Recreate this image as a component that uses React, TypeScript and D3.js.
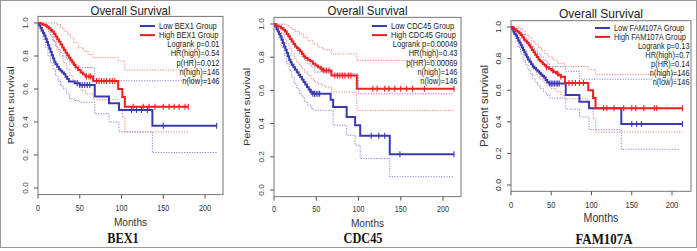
import React from 'react';
import * as d3 from 'd3';

type Pt = [number, number];

const TITLE = 'Overall Survival';
const X_LABEL = 'Months';
const Y_LABEL = 'Percent survival';
const X_TICKS = [0, 50, 100, 150, 200];
const Y_TICKS = [0, 0.2, 0.4, 0.6, 0.8, 1.0];
const GENES = ['BEX1', 'CDC45', 'FAM107A'];

// ---------- BEX1 ----------
const BEX1_LOW: Pt[] = [[0,1],[1.5,0.985],[3,0.97],[4.5,0.955],[6,0.94],[7.5,0.925],[9,0.905],[10.5,0.885],[12,0.865],[13.5,0.845],[15,0.825],[16.5,0.805],[18,0.785],[19.5,0.765],[21,0.75],[23,0.735],[25,0.72],[27,0.71],[29,0.7],[31,0.69],[33,0.675],[35,0.66],[37,0.645],[44,0.635],[50,0.624],[68,0.555],[85,0.513],[97,0.473],[137,0.377],[214,0.377]];
const BEX1_HIGH: Pt[] = [[0,1],[3,0.995],[6,0.99],[9,0.985],[11,0.978],[13,0.968],[15,0.958],[17,0.948],[19,0.935],[21,0.918],[23,0.902],[25,0.886],[27,0.87],[29,0.852],[31,0.836],[33,0.82],[35,0.805],[37,0.79],[39,0.775],[41,0.76],[43,0.745],[45,0.73],[48,0.715],[51,0.7],[54,0.688],[57,0.676],[66,0.648],[96,0.6],[101,0.552],[104,0.492],[180,0.492]];
const BEX1_LOW_CENS = [47,50,53,56,59,62,112,118,124,131,150,214];
const BEX1_HIGH_CENS = [58,61,63,70,73,76,79,82,86,89,92,114,126,133,140,150,157,163,169,176,180];
const BEX1_HIGH_UP: Pt[] = [[0,1],[20,1],[23,0.99],[27,0.97],[31,0.95],[35,0.93],[39,0.91],[43,0.88],[48,0.85],[54,0.83],[60,0.81],[66,0.79],[96,0.77],[104,0.715],[180,0.715]];
const BEX1_HIGH_LO: Pt[] = [[0,1],[10,0.97],[14,0.93],[18,0.89],[22,0.84],[26,0.8],[30,0.76],[34,0.72],[38,0.68],[42,0.65],[46,0.62],[52,0.59],[57,0.57],[66,0.535],[96,0.48],[101,0.43],[104,0.34],[180,0.34]];
const BEX1_LOW_UP: Pt[] = [[0,1],[5,0.99],[9,0.97],[12,0.95],[15,0.92],[18,0.89],[21,0.86],[24,0.84],[27,0.82],[30,0.8],[34,0.78],[38,0.75],[44,0.74],[50,0.73],[68,0.65],[214,0.65]];
const BEX1_LOW_LO: Pt[] = [[0,1],[3,0.95],[6,0.9],[9,0.85],[12,0.8],[15,0.76],[18,0.72],[21,0.68],[24,0.65],[27,0.62],[30,0.6],[34,0.57],[38,0.54],[44,0.53],[50,0.52],[68,0.45],[85,0.4],[97,0.34],[137,0.215],[214,0.215]];
const BEX1_STATS = ['Logrank p=0.01', 'HR(high)=0.54', 'p(HR)=0.012', 'n(high)=146', 'n(low)=146'];

// ---------- CDC45 ----------
const CDC45_LOW: Pt[] = [[0,1],[1.5,0.985],[3,0.97],[4.5,0.955],[6,0.94],[7.5,0.925],[9,0.905],[10.5,0.885],[12,0.865],[13.5,0.845],[15,0.825],[16.5,0.805],[18,0.785],[19.5,0.77],[21,0.755],[23,0.74],[25,0.725],[27,0.71],[29,0.695],[31,0.68],[33,0.665],[35,0.65],[37,0.635],[39,0.62],[41,0.605],[43,0.59],[46,0.58],[67,0.544],[70,0.5],[86,0.44],[96,0.39],[102,0.327],[137,0.216],[213,0.216]];
const CDC45_HIGH: Pt[] = [[0,1],[2,0.99],[5,0.985],[8,0.975],[11,0.965],[13,0.955],[15,0.94],[17,0.925],[19,0.91],[21,0.895],[23,0.88],[25,0.865],[27,0.855],[29,0.845],[31,0.835],[33,0.82],[35,0.805],[37,0.795],[40,0.785],[43,0.775],[46,0.76],[49,0.75],[52,0.74],[55,0.73],[58,0.72],[68,0.69],[98,0.61],[213,0.61]];
const CDC45_LOW_CENS = [44,46,48,50,52,54,115,124,131,149,213];
const CDC45_HIGH_CENS = [56,59,62,65,72,75,78,81,84,88,91,117,122,131,136,143,150,157,164,178,213];
const CDC45_HIGH_UP: Pt[] = [[0,1],[12,1],[15,0.99],[18,0.98],[21,0.97],[25,0.955],[30,0.94],[35,0.92],[40,0.9],[46,0.88],[52,0.86],[58,0.845],[68,0.82],[98,0.78],[213,0.78]];
const CDC45_HIGH_LO: Pt[] = [[0,1],[5,0.97],[9,0.94],[12,0.91],[15,0.88],[18,0.85],[21,0.82],[24,0.79],[27,0.77],[30,0.75],[33,0.73],[36,0.71],[40,0.69],[44,0.67],[48,0.65],[52,0.64],[56,0.63],[60,0.62],[68,0.59],[98,0.48],[213,0.48]];
const CDC45_LOW_UP: Pt[] = [[0,1],[5,0.995],[9,0.98],[12,0.965],[15,0.94],[18,0.915],[21,0.89],[24,0.865],[27,0.84],[30,0.82],[33,0.8],[36,0.78],[40,0.76],[44,0.74],[48,0.71],[67,0.7],[100,0.58],[213,0.58]];
const CDC45_LOW_LO: Pt[] = [[0,1],[3,0.96],[6,0.91],[9,0.86],[12,0.81],[15,0.76],[18,0.72],[21,0.68],[24,0.64],[27,0.61],[30,0.58],[33,0.56],[36,0.53],[40,0.51],[44,0.49],[47,0.48],[70,0.39],[86,0.33],[96,0.27],[102,0.19],[137,0.08],[213,0.08]];
const CDC45_STATS = ['Logrank p=0.00049', 'HR(high)=0.43', 'p(HR)=0.00069', 'n(high)=146', 'n(low)=146'];

// ---------- FAM107A ----------
const FAM_LOW: Pt[] = [[0,1],[1.5,0.985],[3,0.97],[4.5,0.955],[6,0.945],[7.5,0.93],[9,0.915],[10.5,0.9],[12,0.885],[13.5,0.87],[15,0.855],[16.5,0.84],[18,0.825],[19.5,0.81],[21,0.795],[23,0.78],[25,0.765],[27,0.75],[29,0.74],[31,0.73],[33,0.72],[35,0.71],[37,0.7],[39,0.69],[41,0.68],[43,0.665],[45,0.65],[47,0.642],[68,0.57],[85,0.527],[97,0.485],[137,0.386],[213,0.386]];
const FAM_HIGH: Pt[] = [[0,1],[2,0.995],[4,0.985],[6,0.978],[8,0.97],[10,0.96],[12,0.95],[14,0.935],[16,0.92],[18,0.91],[20,0.9],[22,0.885],[24,0.87],[26,0.855],[28,0.84],[30,0.825],[32,0.81],[34,0.795],[36,0.785],[38,0.775],[40,0.765],[42,0.755],[44,0.745],[47,0.735],[50,0.725],[53,0.715],[56,0.705],[59,0.695],[62,0.685],[67,0.645],[96,0.6],[102,0.55],[105,0.485],[213,0.485]];
const FAM_LOW_CENS = [48,50,52,54,56,58,60,150,156,162,213];
const FAM_HIGH_CENS = [44,52,58,62,72,76,80,85,90,115,119,128,140,150,155,165,178,181,213];
const FAM_HIGH_UP: Pt[] = [[0,1],[8,1],[10,0.99],[14,0.97],[18,0.95],[22,0.93],[26,0.91],[30,0.89],[34,0.87],[38,0.85],[42,0.83],[46,0.81],[52,0.79],[58,0.77],[67,0.75],[96,0.73],[105,0.7],[213,0.7]];
const FAM_HIGH_LO: Pt[] = [[0,1],[4,0.97],[8,0.93],[12,0.89],[16,0.85],[20,0.81],[24,0.77],[28,0.73],[32,0.7],[36,0.67],[40,0.65],[44,0.63],[50,0.61],[56,0.59],[62,0.57],[67,0.545],[96,0.49],[102,0.42],[105,0.335],[213,0.335]];
const FAM_LOW_UP: Pt[] = [[0,1],[5,0.99],[9,0.975],[13,0.955],[17,0.93],[21,0.9],[25,0.875],[29,0.85],[33,0.83],[37,0.81],[41,0.79],[45,0.77],[48,0.75],[68,0.72],[85,0.67],[213,0.67]];
const FAM_LOW_LO: Pt[] = [[0,1],[3,0.95],[6,0.91],[9,0.87],[12,0.83],[15,0.79],[18,0.76],[21,0.73],[24,0.7],[27,0.67],[30,0.65],[33,0.63],[36,0.61],[40,0.59],[44,0.57],[48,0.55],[68,0.48],[85,0.43],[97,0.35],[137,0.226],[210,0.226]];
const FAM_STATS = ['Logrank p=0.13', 'HR(high)=0.7', 'p(HR)=0.14', 'n(high)=146', 'n(low)=146'];

const BLUE = '#3a3ab4';
const RED = '#f21e1e';
const BLUE_CI = '#7f7fd6';
const RED_CI = '#f27c7c';
const SANS = '"Liberation Sans", Arial, sans-serif';
const SERIF = '"Liberation Serif", "Times New Roman", serif';
const SQ = 0.88;

interface PanelCfg {
  gene: string;
  low: Pt[]; high: Pt[]; lowCens: number[]; highCens: number[];
  lowUp: Pt[]; lowLo: Pt[]; highUp: Pt[]; highLo: Pt[];
  stats: string[];
  x0: number; x200: number; right: number; y1: number; y0: number;
  titleY: number; tickY: number; monthsY: number; geneY: number; geneX: number;
  legY: number; legStep: number; legTextOff: number; statsOff: number; fs: number; legFs: number;
}

const PANELS: PanelCfg[] = [
  { gene: GENES[0], low: BEX1_LOW, high: BEX1_HIGH, lowCens: BEX1_LOW_CENS, highCens: BEX1_HIGH_CENS,
    lowUp: BEX1_LOW_UP, lowLo: BEX1_LOW_LO, highUp: BEX1_HIGH_UP, highLo: BEX1_HIGH_LO, stats: BEX1_STATS,
    x0: 38, x200: 205, right: 223, y1: 23, y0: 188, titleY: 11, tickY: 208, monthsY: 222, geneY: 238, geneX: 123,
    legY: 26, legStep: 9.1, legTextOff: 64, statsOff: 3.5, fs: 1, legFs: 8.5 },
  { gene: GENES[1], low: CDC45_LOW, high: CDC45_HIGH, lowCens: CDC45_LOW_CENS, highCens: CDC45_HIGH_CENS,
    lowUp: CDC45_LOW_UP, lowLo: CDC45_LOW_LO, highUp: CDC45_HIGH_UP, highLo: CDC45_HIGH_LO, stats: CDC45_STATS,
    x0: 274, x200: 443, right: 461, y1: 24, y0: 190, titleY: 11, tickY: 209, monthsY: 223, geneY: 238, geneX: 363,
    legY: 26, legStep: 9.1, legTextOff: 70, statsOff: 3.5, fs: 1, legFs: 8.5 },
  { gene: GENES[2], low: FAM_LOW, high: FAM_HIGH, lowCens: FAM_LOW_CENS, highCens: FAM_HIGH_CENS,
    lowUp: FAM_LOW_UP, lowLo: FAM_LOW_LO, highUp: FAM_HIGH_UP, highLo: FAM_HIGH_LO, stats: FAM_STATS,
    x0: 511, x200: 672, right: 691, y1: 27, y0: 185, titleY: 13, tickY: 205, monthsY: 218, geneY: 239, geneX: 604,
    legY: 28, legStep: 8.9, legTextOff: 77, statsOff: 1.5, fs: 1.05, legFs: 8.4 },
];

function Txt(props: { x: number; y: number; rot?: boolean; size: number; anchor?: string; weight?: string | number; family?: string; fill?: string; children: React.ReactNode }) {
  const { x, y, rot, size, anchor = 'middle', weight = 'normal', family = SANS, fill = '#222', children } = props;
  const t = rot ? `translate(${x},${y}) rotate(-90) scale(1,${SQ})` : `translate(${x},${y}) scale(${SQ},1)`;
  return (
    <text transform={t} fontSize={size} textAnchor={anchor as any} dominantBaseline="central" fontWeight={weight} fontFamily={family} fill={fill}>
      {children}
    </text>
  );
}

function stepAt(pts: Pt[], t: number): number {
  let s = pts[0][1];
  for (const p of pts) { if (p[0] <= t) s = p[1]; else break; }
  return s;
}

function Panel({ c }: { c: PanelCfg }) {
  const x = d3.scaleLinear().domain([0, 200]).range([c.x0, c.x200]);
  const y = d3.scaleLinear().domain([0, 1]).range([c.y0, c.y1]);
  const line = d3.line<Pt>().x(d => x(d[0])).y(d => y(d[1])).curve(d3.curveStepAfter);
  const top = y(1.04), bottom = y(-0.04);
  const left = c.x0;
  const fs = c.fs;
  const legTextX = c.right - c.legTextOff;
  const midX = (left + c.right) / 2;
  const midY = (top + bottom) / 2;
  const cens = (pts: Pt[], times: number[], color: string) =>
    times.map((t, i) => {
      const cx = x(t), cy = y(stepAt(pts, t));
      return <line key={i} x1={cx} x2={cx} y1={cy - 3} y2={cy + 3} stroke={color} strokeWidth={1.1} />;
    });
  return (
    <g>
      <Txt x={midX} y={c.titleY} size={13 * fs} fill="#222">{TITLE}</Txt>
      <rect x={left} y={top} width={c.right - left} height={bottom - top} fill="none" stroke="#777" strokeWidth={1} />
      {X_TICKS.map(t => (
        <g key={t}>
          <line x1={x(t)} x2={x(t)} y1={bottom} y2={bottom + 4} stroke="#555" />
          <Txt x={x(t)} y={c.tickY} size={8.2 * fs} fill="#333">{String(t)}</Txt>
        </g>
      ))}
      {Y_TICKS.map(t => (
        <g key={t}>
          <line x1={left - 4} x2={left} y1={y(t)} y2={y(t)} stroke="#555" />
          <Txt x={left - 12} y={y(t)} rot size={8.2 * fs} fill="#333">{t.toFixed(1)}</Txt>
        </g>
      ))}
      <Txt x={midX} y={c.monthsY} size={11.5 * fs} fill="#333">{X_LABEL}</Txt>
      <Txt x={left - 27} y={midY} rot size={11 * fs} fill="#333">{Y_LABEL}</Txt>
      <Txt x={c.geneX} y={c.geneY} size={14 * fs} weight="bold" family={SERIF} fill="#111">{c.gene}</Txt>

      <path d={line(c.highUp) || ''} fill="none" stroke={RED_CI} strokeWidth={0.9} strokeDasharray="1.3 1.3" />
      <path d={line(c.highLo) || ''} fill="none" stroke={RED_CI} strokeWidth={0.9} strokeDasharray="1.3 1.3" />
      <path d={line(c.lowUp) || ''} fill="none" stroke={BLUE_CI} strokeWidth={0.9} strokeDasharray="1.3 1.3" />
      <path d={line(c.lowLo) || ''} fill="none" stroke={BLUE_CI} strokeWidth={0.9} strokeDasharray="1.3 1.3" />
      <path d={line(c.low) || ''} fill="none" stroke={BLUE} strokeWidth={2} />
      {cens(c.low, c.lowCens, BLUE)}
      <path d={line(c.high) || ''} fill="none" stroke={RED} strokeWidth={2} />
      {cens(c.high, c.highCens, RED)}

      <line x1={legTextX - 19} x2={legTextX - 4} y1={c.legY} y2={c.legY} stroke={BLUE} strokeWidth={2} />
      <Txt x={legTextX} y={c.legY} size={c.legFs} anchor="start" fill="#222">{`Low ${c.gene} Group`}</Txt>
      <line x1={legTextX - 19} x2={legTextX - 4} y1={c.legY + c.legStep} y2={c.legY + c.legStep} stroke={RED} strokeWidth={2} />
      <Txt x={legTextX} y={c.legY + c.legStep} size={c.legFs} anchor="start" fill="#222">{`High ${c.gene} Group`}</Txt>
      {c.stats.map((s, i) => (
        <Txt key={i} x={c.right - c.statsOff} y={c.legY + c.legStep * (i + 2) + 0.5} size={c.legFs} anchor="end" fill="#222">{s}</Txt>
      ))}
    </g>
  );
}

export default function App() {
  return (
    <div style={{ position: 'absolute', left: 0, top: 0, width: 697, height: 251, background: '#fff' }}>
      <svg width={697} height={251} style={{ display: 'block' }}>
        <rect x={0} y={0} width={697} height={251} fill="#fff" />
        <rect x={0.5} y={0.5} width={696} height={247} fill="none" stroke="#999" strokeWidth={1} />
        {PANELS.map((c, i) => <Panel key={i} c={c} />)}
      </svg>
    </div>
  );
}
